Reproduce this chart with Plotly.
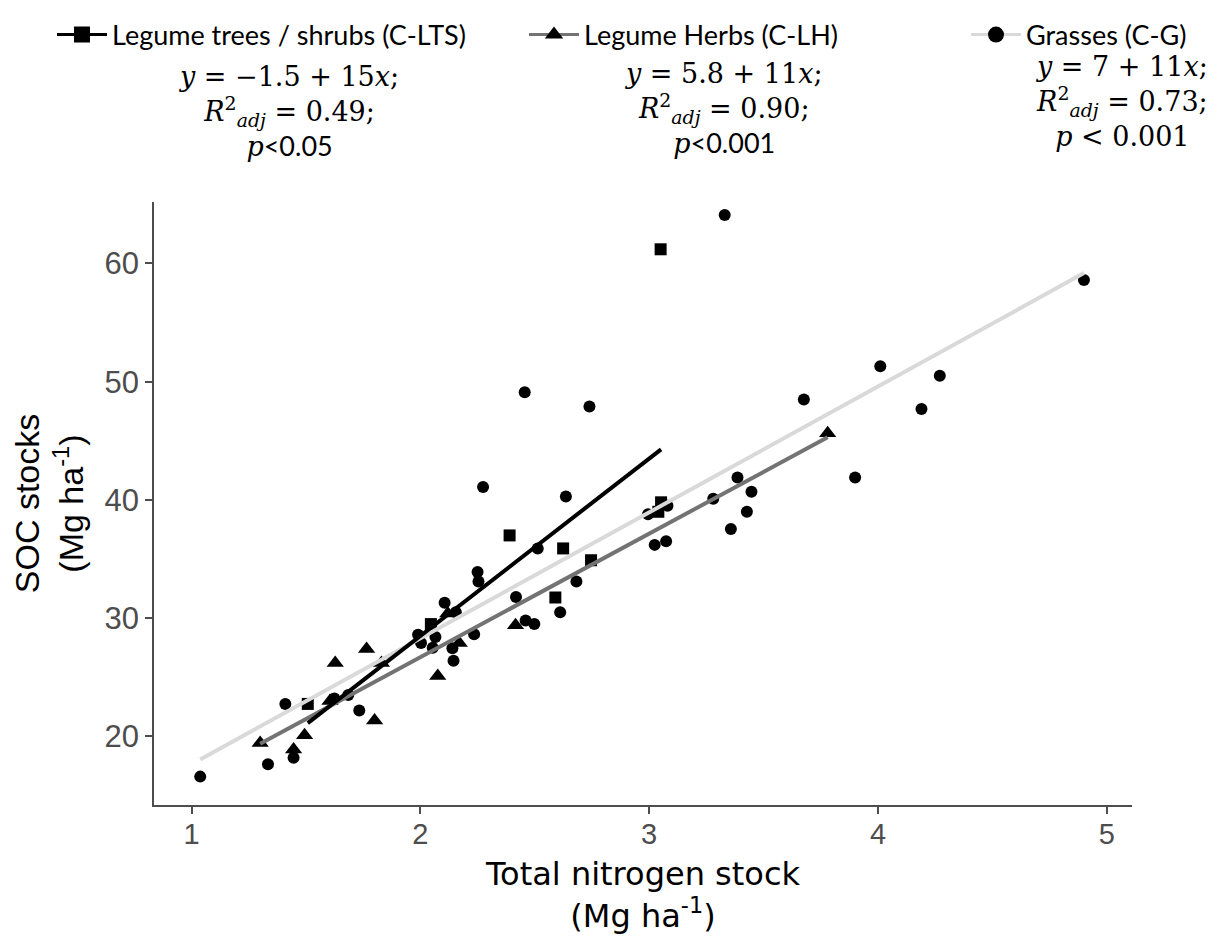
import plotly.graph_objects as go

# ---------------- data ----------------
lts_x = [1.508, 2.046, 2.39, 2.59, 2.624, 2.746, 3.04, 3.052, 3.05]
lts_y = [22.75, 29.5, 37.0, 31.75, 35.9, 34.9, 39.0, 39.8, 61.2]

lh_x = [1.30, 1.446, 1.494, 1.605, 1.628, 1.765, 1.80, 1.83, 2.076, 2.12, 2.17, 2.416, 3.78]
lh_y = [19.45, 18.9, 20.1, 23.0, 26.2, 27.4, 21.35, 26.2, 25.1, 30.4, 27.9, 29.4, 45.65]

g_x = [1.038, 1.334, 1.41, 1.446, 1.624, 1.685, 1.733, 1.99, 2.003, 2.066, 2.054, 2.106,
       2.14, 2.145, 2.155, 2.235, 2.25, 2.254, 2.274, 2.418, 2.46, 2.498, 2.456, 2.513,
       2.611, 2.636, 2.682, 2.739, 2.995, 3.024, 3.074, 3.08, 3.28, 3.33, 3.357, 3.386,
       3.427, 3.447, 3.676, 3.90, 4.01, 4.19, 4.27, 4.90]
g_y = [16.6, 17.65, 22.75, 18.2, 23.2, 23.5, 22.2, 28.6, 27.9, 28.4, 27.5, 31.3,
       27.45, 26.4, 30.5, 28.65, 33.9, 33.1, 41.1, 31.8, 29.8, 29.5, 49.1, 35.9,
       30.5, 40.3, 33.1, 47.9, 38.8, 36.2, 36.5, 39.5, 40.1, 64.1, 37.55, 41.9,
       39.0, 40.7, 48.5, 41.9, 51.3, 47.7, 50.5, 58.6]

# fitted lines: (intercept, slope) as drawn
lts_fit = (-1.5, 15.0)
lh_fit = (5.8, 10.45)
g_fit = (7.0, 10.65)

groups = ["Legume trees / shrubs (C-LTS)", "Legume Herbs (C-LH)", "Grasses (C-G)"]
x_ticks = [1, 2, 3, 4, 5]
y_ticks = [20, 30, 40, 50, 60]

eq_lts = "<i>y</i> = \u22121.5 + 15<i>x</i>;<br><i>R</i><sup>2</sup><sub><i>adj</i></sub> = 0.49;<br><i>p</i><span style='font-family:Lato'><0.05</span>"
eq_lh = "<i>y</i> = 5.8 + 11<i>x</i>;<br><i>R</i><sup>2</sup><sub><i>adj</i></sub> = 0.90;<br><i>p</i><span style='font-family:Lato'><0.001</span>"
eq_g = "<i>y</i> = 7 + 11<i>x</i>;<br><i>R</i><sup>2</sup><sub><i>adj</i></sub> = 0.73;<br><i>p</i> < 0.001"

# ---------------- styles ----------------
C_LTS = "#000000"
C_LH = "#737373"
C_G = "#d9d9d9"

ML, MR, MT, MB = 146, 105, 194, 143
PW = 1229 - ML - MR
PH = 940 - MT - MB

fig = go.Figure()

# points
fig.add_trace(go.Scatter(x=g_x, y=g_y, mode="markers", showlegend=False,
                         marker=dict(symbol="circle", size=12, color="black")))
fig.add_trace(go.Scatter(x=lh_x, y=lh_y, mode="markers", showlegend=False,
                         marker=dict(symbol="triangle-up", size=15, color="black")))
fig.add_trace(go.Scatter(x=lts_x, y=lts_y, mode="markers", showlegend=False,
                         marker=dict(symbol="square", size=12, color="black")))

# fit lines
def fit_line(xs, coef):
    x0, x1 = min(xs), max(xs)
    return [x0, x1], [coef[0] + coef[1] * x0, coef[0] + coef[1] * x1]

for xs, coef, col in [(g_x, g_fit, C_G), (lh_x, lh_fit, C_LH), (lts_x, lts_fit, C_LTS)]:
    lx, ly = fit_line(xs, coef)
    fig.add_trace(go.Scatter(x=lx, y=ly, mode="lines", showlegend=False,
                             line=dict(color=col, width=4), hoverinfo="skip"))

# legend entries (one legend box per group)
legend_ids = ["legend", "legend2", "legend3"]
for name, sym, col, lid in zip(groups, ["square", "triangle-up", "circle"],
                               [C_LTS, C_LH, C_G], legend_ids):
    fig.add_trace(go.Scatter(x=[None], y=[None], mode="lines+markers", name=name,
                             legend=lid, line=dict(color=col, width=3),
                             marker=dict(symbol=sym, size=16, color="black")))

ann_font = dict(family="DejaVu Serif", size=27, color="black")

def px_x(px):
    return (px - ML) / PW

def px_y(py):
    return 1 + (MT - py) / PH

annotations = [
    dict(text=eq_lts, xref="paper", yref="paper", x=px_x(281), y=px_y(51),
         xanchor="center", yanchor="top", showarrow=False, font=ann_font, align="center"),
    dict(text=eq_lh, xref="paper", yref="paper", x=px_x(715), y=px_y(48),
         xanchor="center", yanchor="top", showarrow=False, font=ann_font, align="center"),
    dict(text=eq_g, xref="paper", yref="paper", x=px_x(1114), y=px_y(41),
         xanchor="center", yanchor="top", showarrow=False, font=ann_font, align="center"),
]

axis_common = dict(showgrid=False, zeroline=False, showline=True, linecolor="#4d4d4d",
                   linewidth=1.5, ticks="outside", ticklen=7, tickcolor="#4d4d4d",
                   tickwidth=1.5, mirror=False, automargin=False)

leg_common = dict(orientation="h", xref="container", yref="container",
                  xanchor="left", yanchor="middle", itemwidth=50,
                  font=dict(family="Lato", size=27, color="black"),
                  bgcolor="rgba(0,0,0,0)", itemsizing="trace")

fig.update_layout(
    width=1229, height=940,
    paper_bgcolor="white", plot_bgcolor="white",
    margin=dict(l=ML, r=MR, t=MT, b=MB),
    xaxis=dict(range=[0.836, 5.11], tickvals=x_ticks,
               tickfont=dict(family="Liberation Sans", size=29, color="#4d4d4d"),
               ticklabelstandoff=-5,
               title=dict(text="Total nitrogen stock<br>(Mg ha<sup>-1</sup>)",
                          font=dict(family="DejaVu Sans", size=32, color="black"),
                          standoff=14),
               **axis_common),
    yaxis=dict(range=[14.2, 65.2], tickvals=y_ticks,
               tickfont=dict(family="Liberation Sans", size=31, color="#4d4d4d"),
               title=dict(text="SOC stocks<br>(Mg ha<sup>-1</sup>)",
                          font=dict(family="Liberation Sans", size=34, color="black"),
                          standoff=20),
               **axis_common),
    legend=dict(x=44 / 1229, y=1 - 27 / 940, **leg_common),
    legend2=dict(x=516 / 1229, y=1 - 27 / 940, **leg_common),
    legend3=dict(x=958 / 1229, y=1 - 27 / 940, **leg_common),
    annotations=annotations,
)

fig.write_html("out.html")
